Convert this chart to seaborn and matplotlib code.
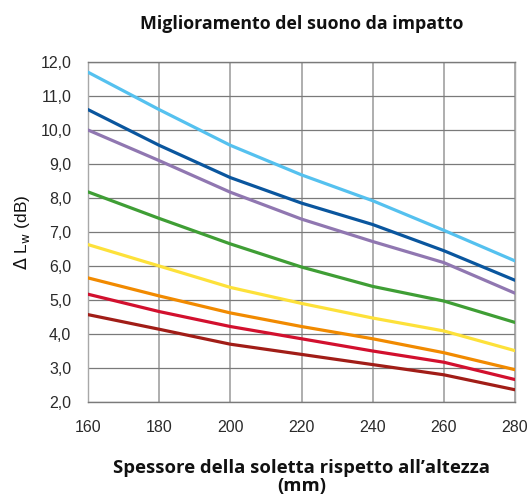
import matplotlib
matplotlib.use("Agg")
import matplotlib.pyplot as plt
from matplotlib import font_manager as fm
import seaborn as sns
import pandas as pd
from matplotlib.ticker import FuncFormatter, MultipleLocator

thickness = [160, 180, 200, 220, 240, 260, 280]
s_lightblue = [11.7, 10.6, 9.55, 8.68, 7.92, 7.05, 6.15]
s_darkblue = [10.6, 9.55, 8.6, 7.85, 7.22, 6.45, 5.58]
s_purple = [10.0, 9.1, 8.17, 7.38, 6.72, 6.1, 5.2]
s_green = [8.18, 7.4, 6.65, 5.97, 5.4, 4.97, 4.34]
s_yellow = [6.63, 6.0, 5.37, 4.9, 4.47, 4.09, 3.51]
s_orange = [5.65, 5.12, 4.62, 4.22, 3.86, 3.45, 2.95]
s_red = [5.17, 4.66, 4.22, 3.86, 3.5, 3.17, 2.66]
s_darkred = [4.57, 4.14, 3.7, 3.4, 3.1, 2.8, 2.36]

series = {
    "s1": s_lightblue, "s2": s_darkblue, "s3": s_purple, "s4": s_green,
    "s5": s_yellow, "s6": s_orange, "s7": s_red, "s8": s_darkred,
}
colors = ["#55C1EF", "#0A569E", "#9077B1", "#3F9E35", "#FDE13A", "#F18A00", "#D2102E", "#A11D17"]

rows = []
for name, vals in series.items():
    for x, v in zip(thickness, vals):
        rows.append({"x": x, "y": v, "s": name})
df = pd.DataFrame(rows)

sns.set_theme(style="white")
plt.rcParams["font.family"] = ["Liberation Sans", "DejaVu Sans"]

tick_fp = fm.FontProperties(family=["Liberation Sans", "DejaVu Sans"], size=11.5)
lab_fp = fm.FontProperties(family=["Liberation Sans", "DejaVu Sans"], size=12.5)

fig = plt.figure(figsize=(5.31, 5.0), dpi=100)
ax = fig.add_axes([88/531, 1 - 402/500, (515-88)/531, (402-62)/500])

sns.lineplot(data=df, x="x", y="y", hue="s", palette=colors, linewidth=2.3,
             legend=False, ax=ax, zorder=3)

ax.set_xlim(160, 280)
ax.set_ylim(2.0, 12.0)
ax.xaxis.set_major_locator(MultipleLocator(20))
ax.yaxis.set_major_locator(MultipleLocator(1))
ax.yaxis.set_major_formatter(FuncFormatter(lambda v, p: f"{v:.1f}".replace(".", ",")))
ax.grid(True, color="#7a7a7a", linewidth=0.9, zorder=0)
ax.xaxis.grid(True, color="#a8a8a8", linewidth=1.3)
for sp in ax.spines.values():
    sp.set_color("#a8a8a8")
    sp.set_linewidth(1.0)
ax.spines["bottom"].set_color("#7a7a7a")
ax.spines["top"].set_color("#7a7a7a")
ax.tick_params(axis="both", colors="#2a2a2a", length=0)
ax.tick_params(axis="y", pad=12)
ax.tick_params(axis="x", pad=13)
for lab in ax.get_xticklabels() + ax.get_yticklabels():
    lab.set_fontproperties(tick_fp)

bold_family = ["Open Sans", "DejaVu Sans"]
ax.set_xlabel("Spessore della soletta rispetto all\u2019altezza\n(mm)",
              fontsize=13.3, fontweight="bold", family=bold_family,
              labelpad=17, color="#111111", linespacing=1.0)
ax.set_ylabel(r"$\Delta$ L$_\mathrm{w}$ (dB)", fontproperties=lab_fp, color="#111111", labelpad=6)
ax.set_title("Miglioramento del suono da impatto", fontsize=12.8, fontweight="bold",
             family=bold_family, pad=24, color="#111111")

fig.savefig("out.png", dpi=100)
